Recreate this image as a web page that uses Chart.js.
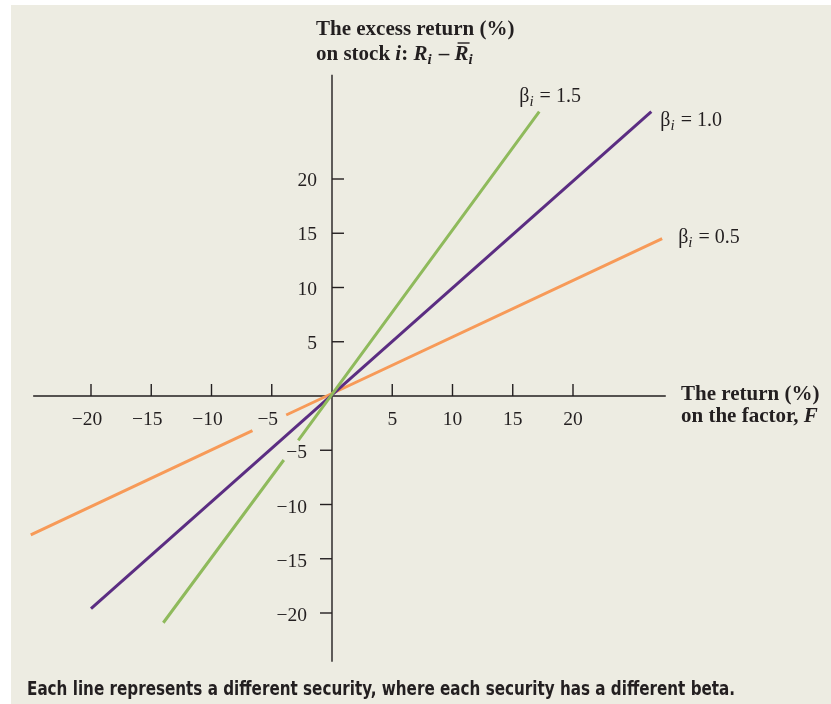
<!DOCTYPE html>
<html>
<head>
<meta charset="utf-8">
<script src="https://cdn.jsdelivr.net/npm/chart.js@4.4.1/dist/chart.umd.min.js"></script>
<style>
  html, body { margin: 0; padding: 0; background: #ffffff; }
  #panel { position: absolute; left: 11px; top: 5px; right: 0; bottom: 0; background: #edece2; }
  #wrap { position: absolute; left: 0; top: 0; width: 831px; height: 704px; }
  #note {
    position: absolute; left: 27px; top: 676px; white-space: nowrap;
    font-family: "Liberation Sans Narrow", "DejaVu Sans Condensed", "Liberation Sans", sans-serif;
    font-weight: bold; font-size: 20px; color: #231f20; transform-origin: 0 0;
  }
</style>
</head>
<body>
<div id="panel"></div>
<div id="wrap"><canvas id="betaChart"></canvas></div>
<div id="note">Each line represents a different security, where each security has a different beta.</div>

<script>
// values: [factor return F, excess return]
// a null point breaks the line where the figure leaves a gap for a label
const beta15Points = [[-14.0, -20.9], [-4.0, -5.9], [-3.4, null], [-2.8, -4.1], [17.2, 26.2]];
const beta10Points = [[-20.0, -19.6], [26.5, 26.2]];
const beta05Points = [[-25.0, -12.8], [-6.6, -3.2], [-5.2, null], [-3.8, -1.75], [27.4, 14.5]];

const xTicks = [-20, -15, -10, -5, 5, 10, 15, 20];
const yTicks = [-20, -15, -10, -5, 5, 10, 15, 20];
const xAxisRange = [-24.8, 27.7];
const yAxisRange = [-24.5, 29.6];

const seriesNames = ['1.5', '1.0', '0.5'];
const seriesColors = ['#8fba5c', '#5b2d82', '#f79a58'];

const ink = '#231f20';
const serif = '"Liberation Serif", "DejaVu Serif", serif';

function toXY(points) {
    return points.map(p => ({ x: p[0], y: p[1] }));
}

// draws a row of text pieces with their own fonts / offsets
function drawRuns(ctx, runs, x, y) {
    runs.forEach(r => {
        ctx.font = r.font;
        ctx.fillText(r.t, x, y + (r.dy || 0));
        const w = ctx.measureText(r.t).width;
        if (r.bar) {
            ctx.save();
            ctx.lineWidth = 1.4;
            ctx.beginPath();
            ctx.moveTo(x + 3, y - 17);
            ctx.lineTo(x + w + 1, y - 17);
            ctx.stroke();
            ctx.restore();
        }
        x += w + (r.kern || 0);
    });
}

const axesPlugin = {
    id: 'crossAxes',
    beforeDatasetsDraw(chart) {
        const ctx = chart.ctx;
        const xs = chart.scales.x;
        const ys = chart.scales.y;
        const ox = xs.getPixelForValue(0);
        const oy = ys.getPixelForValue(0);
        ctx.save();
        ctx.strokeStyle = ink;
        ctx.fillStyle = ink;
        ctx.lineWidth = 1.4;

        // axis lines
        ctx.beginPath();
        ctx.moveTo(xs.getPixelForValue(xAxisRange[0]), oy);
        ctx.lineTo(xs.getPixelForValue(xAxisRange[1]), oy);
        ctx.moveTo(ox, ys.getPixelForValue(yAxisRange[0]));
        ctx.lineTo(ox, ys.getPixelForValue(yAxisRange[1]));
        ctx.stroke();

        // ticks + labels
        ctx.font = '19.5px ' + serif;
        ctx.textBaseline = 'middle';
        ctx.textAlign = 'center';
        xTicks.forEach(v => {
            const px = xs.getPixelForValue(v);
            ctx.beginPath();
            ctx.moveTo(px, oy);
            ctx.lineTo(px, oy - 12);
            ctx.stroke();
            const label = v < 0 ? '\u2212' + Math.abs(v) : String(v);
            ctx.fillText(label, px + (v < 0 ? -4 : 0), oy + 24);
        });
        ctx.textAlign = 'right';
        yTicks.forEach(v => {
            const py = ys.getPixelForValue(v);
            const dir = v > 0 ? 1 : -1;
            ctx.beginPath();
            ctx.moveTo(ox, py);
            ctx.lineTo(ox + 12 * dir, py);
            ctx.stroke();
            const label = v < 0 ? '\u2212' + Math.abs(v) : String(v);
            ctx.fillText(label, v > 0 ? ox - 15 : ox - 25, py + (v > 0 ? 2 : 3));
        });
        ctx.restore();
    },
    afterDatasetsDraw(chart) {
        const ctx = chart.ctx;
        const xs = chart.scales.x;
        const ys = chart.scales.y;
        const ox = xs.getPixelForValue(0);
        ctx.save();
        ctx.fillStyle = ink;
        ctx.strokeStyle = ink;
        ctx.textBaseline = 'alphabetic';
        ctx.textAlign = 'left';

        const b = 'bold 21px ' + serif;
        const bi = 'italic bold 21px ' + serif;
        const bs = 'italic bold 15px ' + serif;

        // y axis title
        drawRuns(ctx, [{ t: 'The excess return (%)', font: b }], ox - 16, 35);
        drawRuns(ctx, [
            { t: 'on stock ', font: b },
            { t: 'i', font: bi },
            { t: ': ', font: b },
            { t: 'R', font: bi },
            { t: 'i', font: bs, dy: 4, kern: 2 },
            { t: ' \u2013 ', font: b },
            { t: 'R', font: bi, bar: true },
            { t: 'i', font: bs, dy: 4 }
        ], ox - 16, 60);

        // x axis title
        drawRuns(ctx, [{ t: 'The return (%)', font: b }], 681, 400);
        drawRuns(ctx, [{ t: 'on the factor, ', font: b }, { t: 'F', font: bi }], 681, 422);

        // beta labels next to the line ends
        const sets = chart.data.datasets;
        const offsets = [[-20, -10], [9, 14], [16, 4]];
        sets.forEach((ds, i) => {
            const last = ds.data[ds.data.length - 1];
            const px = xs.getPixelForValue(last.x) + offsets[i][0];
            const py = ys.getPixelForValue(last.y) + offsets[i][1];
            drawRuns(ctx, [
                { t: '\u03b2', font: '20px ' + serif },
                { t: 'i', font: 'italic 15px ' + serif, dy: 4, kern: 1 },
                { t: ' = ' + seriesNames[i], font: '20px ' + serif }
            ], px, py);
        });
        ctx.restore();
    }
};

const chart = new Chart(document.getElementById('betaChart'), {
    type: 'line',
    data: {
        datasets: [
            { label: 'beta 1.5', data: toXY(beta15Points), borderColor: seriesColors[0] },
            { label: 'beta 1.0', data: toXY(beta10Points), borderColor: seriesColors[1] },
            { label: 'beta 0.5', data: toXY(beta05Points), borderColor: seriesColors[2] }
        ]
    },
    options: {
        responsive: true,
        maintainAspectRatio: false,
        animation: false,
        spanGaps: false,
        elements: {
            line: { borderWidth: 3, tension: 0, borderCapStyle: 'butt' },
            point: { radius: 0, hoverRadius: 0 }
        },
        layout: {
            padding: { left: 18.7, right: 149.55, top: 70.5, bottom: 36.75 }
        },
        plugins: {
            legend: { display: false },
            tooltip: { enabled: false }
        },
        scales: {
            x: { type: 'linear', min: -26, max: 29, display: false },
            y: { type: 'linear', min: -25, max: 30, display: false }
        }
    },
    plugins: [axesPlugin]
});

// squeeze the caption to the width it has in the figure
const note = document.getElementById('note');
note.style.transform = 'scaleX(' + (708 / note.offsetWidth) + ')';
</script>
</body>
</html>
